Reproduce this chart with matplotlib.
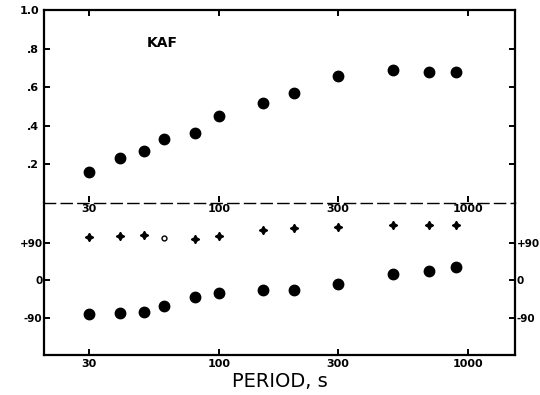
import matplotlib.pyplot as plt
from matplotlib.ticker import NullLocator

# --- Data ---
period = [30, 40, 50, 60, 80, 100, 150, 200, 300, 500, 700, 900]
amp = [0.16, 0.23, 0.27, 0.33, 0.36, 0.45, 0.52, 0.57, 0.66, 0.69, 0.68, 0.68]
phase_low = [-82, -79, -77, -62, -41, -31, -24, -24, -10, 14, 22, 31]
phase_high = [103, 106, 108, 101, 98, 106, 120, 125, 127, 132, 134, 132]

xticks = [30, 100, 300, 1000]
xticklabels = ["30", "100", "300", "1000"]

W, H = 540, 395
fig = plt.figure(figsize=(W / 100, H / 100), dpi=100)
fig.patch.set_facecolor("white")

left, right = 44 / W, 515 / W
top1, mid, bot = 10.5, 202.5, 355
ax1 = fig.add_axes([left, 1 - mid / H, right - left, (mid - top1) / H])
ax2 = fig.add_axes([left, 1 - bot / H, right - left, (bot - mid) / H])

for ax in (ax1, ax2):
    ax.set_xscale("log")
    ax.set_xlim(19.8, 1550)
    ax.set_xticks(xticks)
    ax.set_xticklabels(xticklabels)
    ax.xaxis.set_minor_locator(NullLocator())
    ax.patch.set_visible(False)
    for s in ax.spines.values():
        s.set_linewidth(1.6)
    ax.tick_params(which="both", direction="in", length=4, width=1.4,
                   labelsize=8, top=True, right=True)

# --- top panel: amplitude ---
ax1.plot(period, amp, "o", color="black", markersize=7.5)
ax1.set_ylim(0, 1.0)
ax1.set_yticks([0.2, 0.4, 0.6, 0.8, 1.0])
ax1.set_yticklabels([".2", ".4", ".6", ".8", "1.0"], fontweight="bold")
ax1.spines["bottom"].set_visible(False)
ax1.tick_params(axis="x", labelbottom=True, pad=1)
for lab in ax1.get_xticklabels():
    lab.set_fontweight("bold")
ax1.text(0.219, 0.81, "KAF", transform=ax1.transAxes, fontsize=10,
         fontweight="bold")

# --- bottom panel: phase ---
ax2.plot(period, phase_low, "o", color="black", markersize=7.5)
hi_p = [p for i, p in enumerate(period) if i != 3]
hi_v = [v for i, v in enumerate(phase_high) if i != 3]
ax2.plot(hi_p, hi_v, marker=(4, 1, 0), ls="none", color="black", markersize=6)
ax2.plot(period[3], phase_high[3], "o", mfc="white", mec="black",
         markersize=3.5, mew=1)
ax2.set_ylim(-180, 187)
ax2.set_yticks([-90, 0, 90])
ax2.set_yticklabels(["-90", "0", "+90"], fontweight="bold")
ax2.tick_params(axis="y", labelright=True)
ax2.tick_params(axis="y", which="both", pad=1, labelsize=7.5)
ax2.spines["top"].set_linestyle((0, (8, 4)))
ax2.spines["top"].set_linewidth(1.0)
ax2.tick_params(axis="x", top=False, pad=3)
for lab in ax2.get_xticklabels():
    lab.set_fontweight("bold")
ax2.set_xlabel("PERIOD, s", fontsize=14, labelpad=2)

fig.savefig("out.png", dpi=100)
